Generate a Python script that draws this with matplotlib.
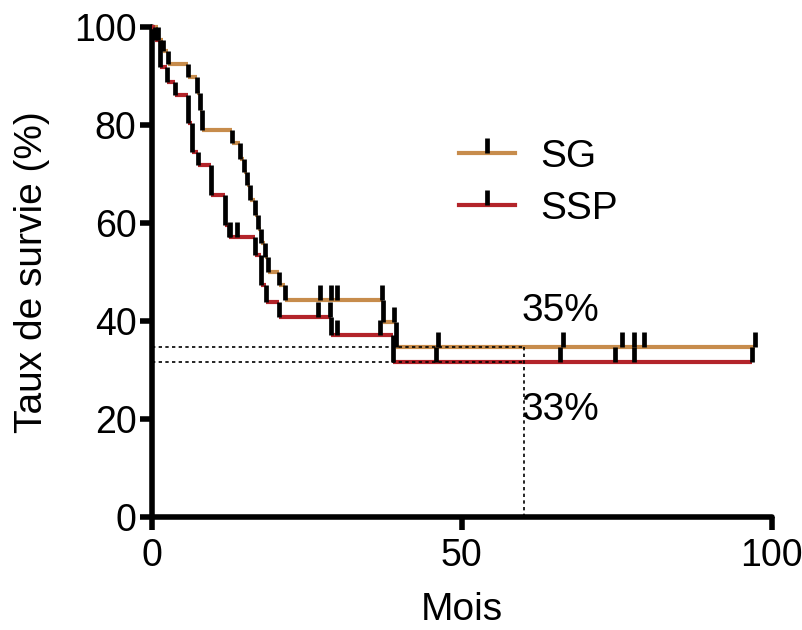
"""Courbes de survie Kaplan-Meier SG / SSP (style Prism)."""
import matplotlib

matplotlib.use("Agg")
import matplotlib.pyplot as plt
import numpy as np
from matplotlib.lines import Line2D

plt.rcParams["font.family"] = ["Liberation Sans", "DejaVu Sans"]

# ── données ────────────────────────────────────────────────────────
sg_time = [0, 0.97, 1.8, 2.6, 5.8, 7.3, 7.7, 8.1, 12.9, 14.2, 14.8, 15.3, 15.8,
           16.6, 17.1, 17.6, 18.2, 18.7, 20.6, 21.5, 37.3, 39.4]
sg_surv = [100, 97.3, 95.2, 92.4, 89.8, 86.5, 83.0, 79.0, 76.3, 73.0, 70.5, 67.8, 64.7,
           61.6, 58.8, 56.0, 53.0, 50.0, 47.3, 44.3, 39.8, 34.7]
sg_end = 97.3
sg_censor = [27.1, 28.9, 29.9, 37.2, 39.0, 46.1, 66.3, 75.8, 77.8, 79.4, 97.3]

ssp_time = [0, 0.5, 1.3, 2.4, 3.7, 5.8, 6.5, 7.4, 9.5, 11.8, 12.4, 16.6, 17.7,
            18.5, 20.6, 28.9, 38.9]
ssp_surv = [100, 97.3, 91.9, 88.8, 86.1, 80.4, 74.6, 71.8, 65.7, 59.6, 57.1, 53.5, 47.3,
            43.9, 40.8, 37.1, 31.7]
ssp_end = 96.8
ssp_censor = [12.6, 13.7, 26.8, 28.7, 29.8, 36.8, 45.8, 65.8, 74.8, 77.8, 96.8]

median_t = 60
sg_at_60 = 34.7
ssp_at_60 = 31.7

SG_COLOR = "#C78C4C"
SSP_COLOR = "#B3242A"
TICK_KW = dict(marker=2, ms=11, mew=3.4, mec="black")


def draw_km(ax, t, s, t_end, censor, color):
    t = np.asarray(t, dtype=float)
    s = np.asarray(s, dtype=float)
    t_next = np.append(t[1:], t_end)
    ax.hlines(s, t, t_next, colors=color, lw=3, clip_on=False, zorder=3)
    ax.vlines(t[1:], s[1:], s[:-1], colors="black", lw=3.4, clip_on=False, zorder=4)
    idx = np.searchsorted(t, censor, side="right") - 1
    ax.plot(censor, s[idx], ls="none", clip_on=False, zorder=5, **TICK_KW)


fig = plt.figure(figsize=(8.03, 6.30), dpi=100)
ax = fig.add_axes([0.189, 0.179, 0.772, 0.778])

# lignes pointillées (survie à 60 mois)
dot = dict(ls=(0, (2, 2)), color="black", lw=1.2, zorder=6)
ax.plot([0, median_t], [sg_at_60, sg_at_60], **dot)
ax.plot([0, median_t], [ssp_at_60, ssp_at_60], **dot)
ax.plot([median_t, median_t], [0, sg_at_60], **dot)

draw_km(ax, sg_time, sg_surv, sg_end, sg_censor, SG_COLOR)
draw_km(ax, ssp_time, ssp_surv, ssp_end, ssp_censor, SSP_COLOR)

ax.text(59.6, 42.0, "35%", fontsize=28, ha="left", va="center")
ax.text(59.6, 21.8, "33%", fontsize=28, ha="left", va="center")

ax.set_xlim(0, 100)
ax.set_ylim(0, 100)
ax.set_xticks([0, 50, 100])
ax.set_yticks([0, 20, 40, 60, 80, 100])
ax.tick_params(labelsize=27, width=4, length=9, direction="out")
ax.tick_params(axis="y", pad=2)
ax.tick_params(axis="x", pad=6)
for side in ("top", "right"):
    ax.spines[side].set_visible(False)
for side in ("left", "bottom"):
    ax.spines[side].set_linewidth(4)
    ax.spines[side].set_capstyle("round")
ax.set_xlabel("Mois", fontsize=28, labelpad=13)
ax.set_ylabel("Taux de survie (%)", fontsize=28, labelpad=17)

handles = [
    Line2D([], [], color=SG_COLOR, lw=3, **TICK_KW),
    Line2D([], [], color=SSP_COLOR, lw=3, **TICK_KW),
]
ax.legend(handles, ["SG", "SSP"], numpoints=1,
          loc="upper left", bbox_to_anchor=(0.47, 0.804), frameon=False, fontsize=28,
          handlelength=1.45, handletextpad=0.65, labelspacing=0.42, borderaxespad=0)

fig.savefig("out.png", dpi=100)
